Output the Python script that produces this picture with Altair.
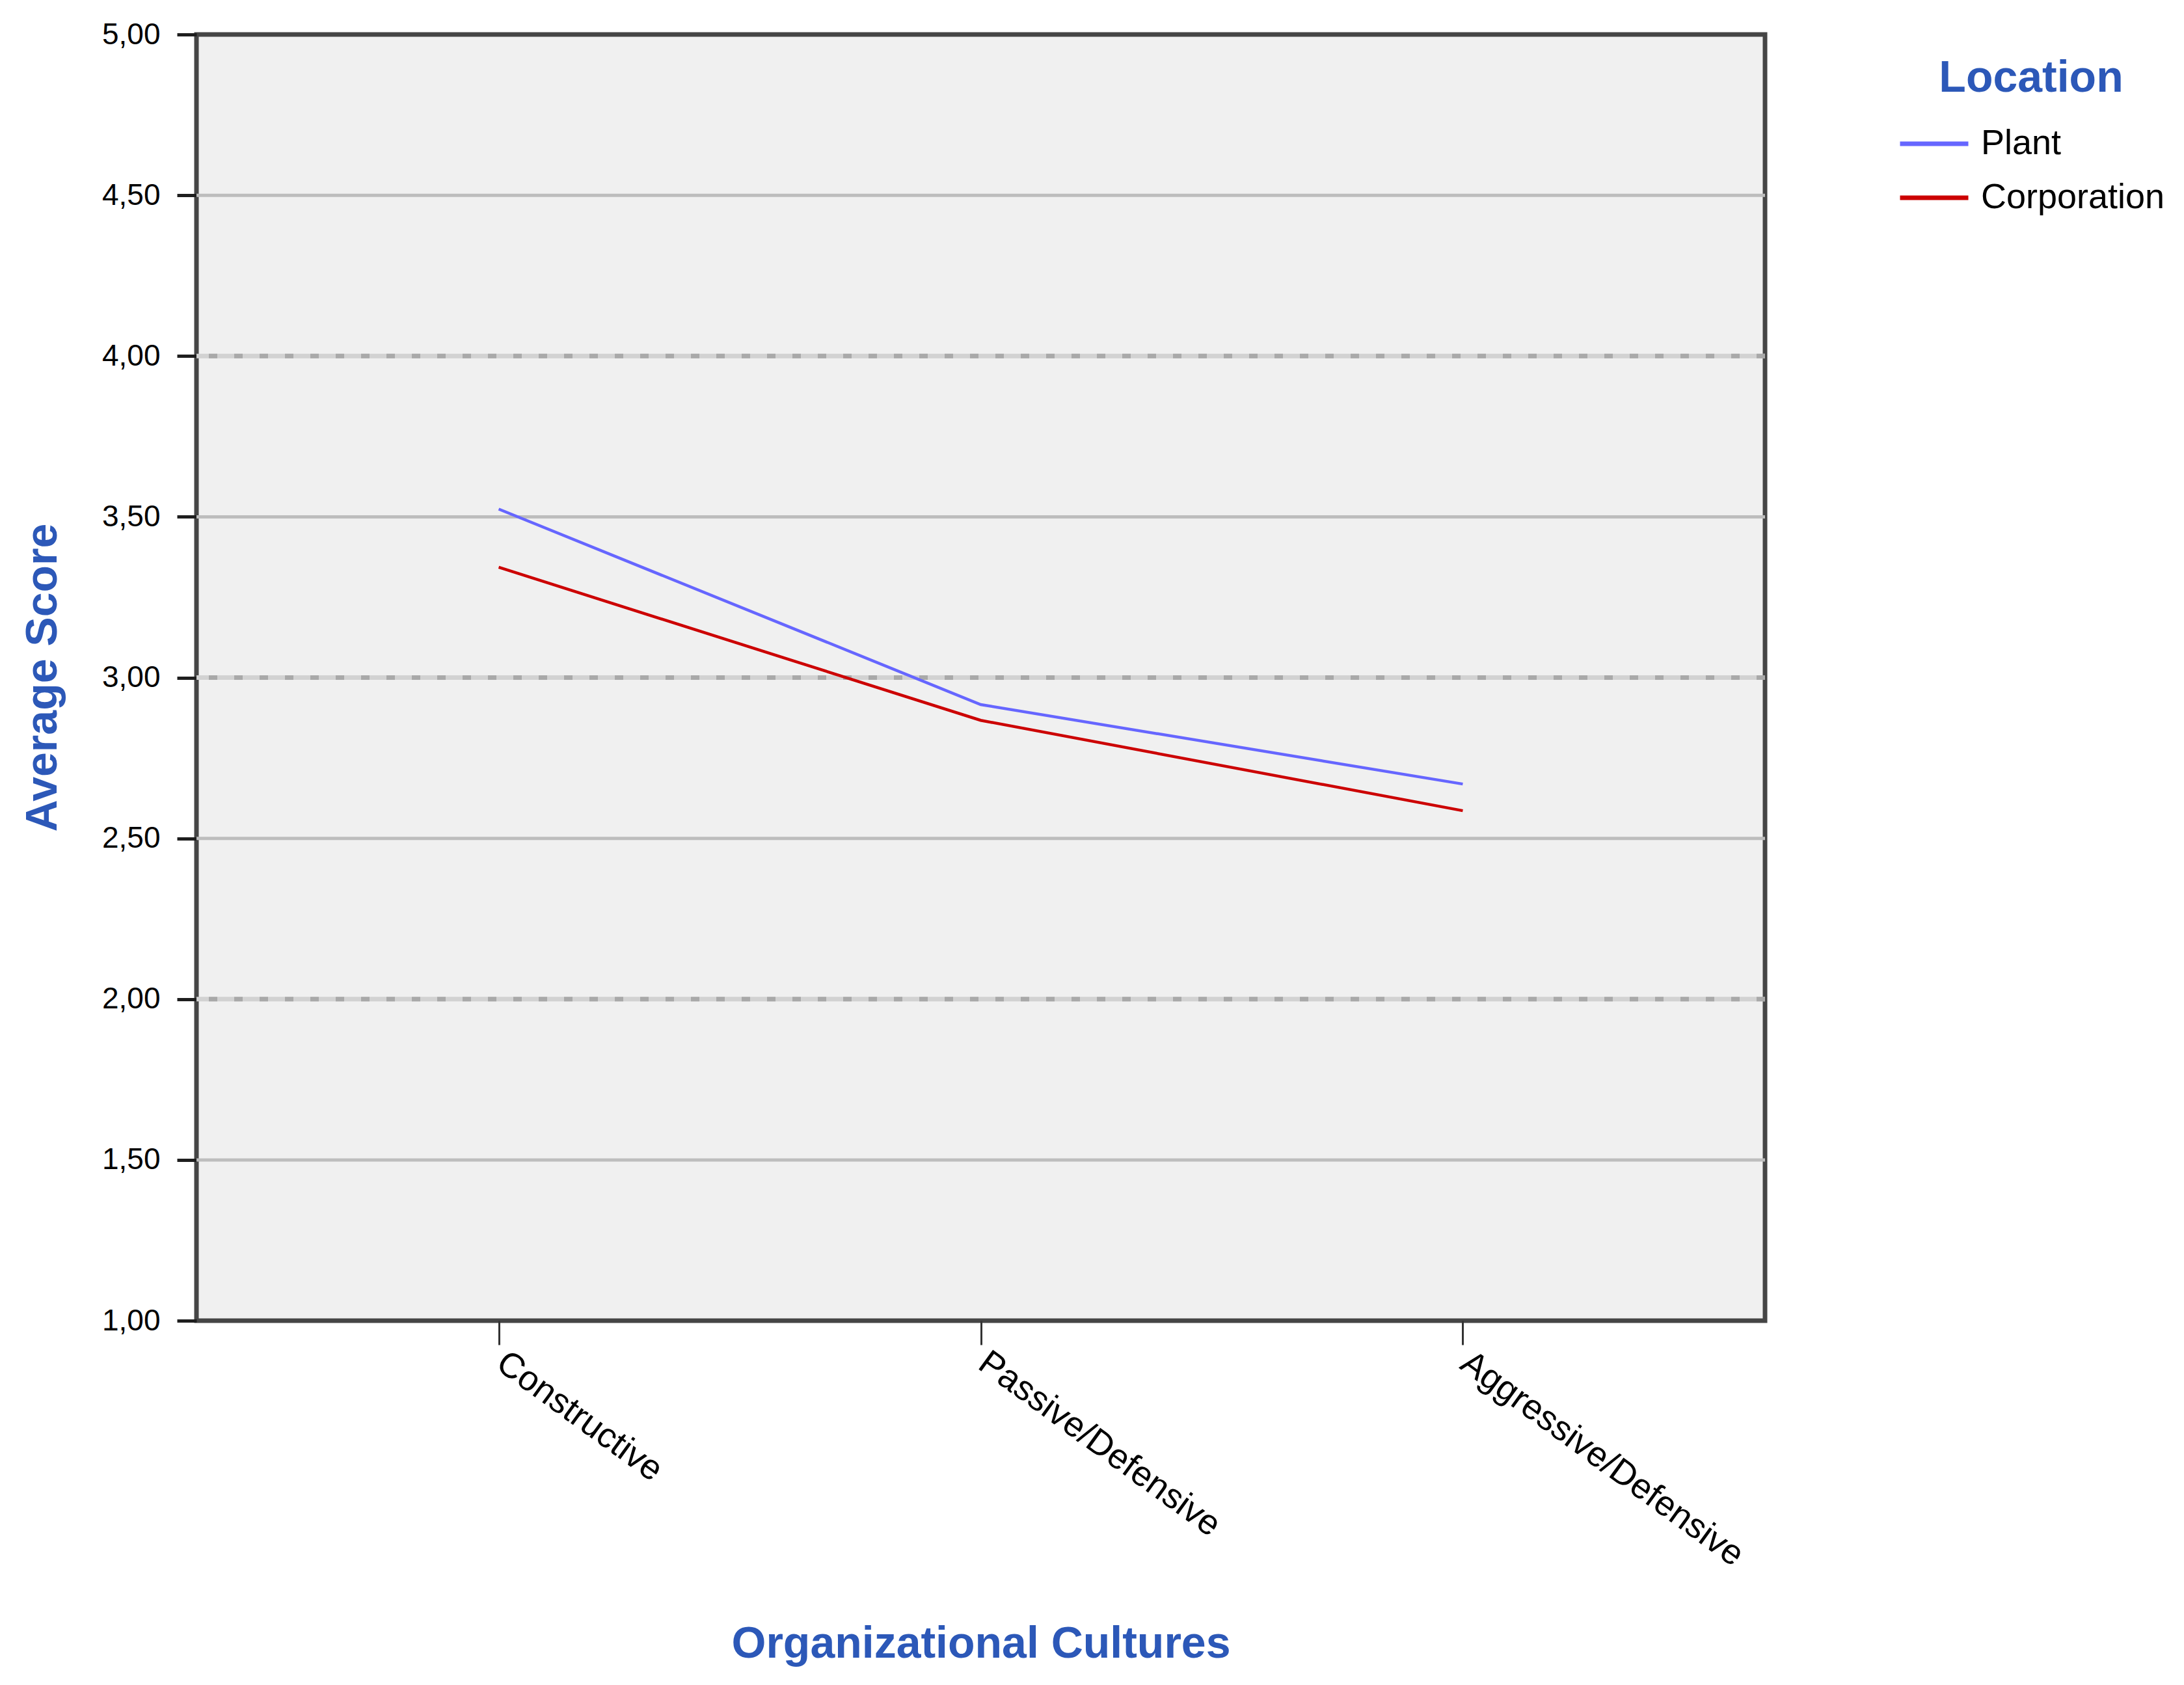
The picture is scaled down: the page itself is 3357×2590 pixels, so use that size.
import altair as alt
import pandas as pd

# ---- data ----
categories = ["Constructive", "Passive/Defensive", "Aggressive/Defensive"]
plant = [3.524, 2.916, 2.669]
corporation = [3.343, 2.867, 2.586]
series_names = ["Plant", "Corporation"]
series_colors = ["#6666ff", "#cc0000"]
y_ticks = [1.0, 1.5, 2.0, 2.5, 3.0, 3.5, 4.0, 4.5, 5.0]
grid_half = [1.5, 2.5, 3.5, 4.5]
grid_int = [2.0, 3.0, 4.0]

BLUE = "#2c58b8"
FONT = "Liberation Sans"

rows = []
for c, v in zip(categories, plant):
    rows.append({"culture": c, "score": v, "location": "Plant"})
for c, v in zip(categories, corporation):
    rows.append({"culture": c, "score": v, "location": "Corporation"})
df = pd.DataFrame(rows)

yscale = alt.Scale(domain=[1, 5], nice=False, zero=False)

y_axis = alt.Axis(
    values=y_ticks,
    labelExpr="replace(format(datum.value, '.2f'), '.', ',')",
    title="Average Score",
    titleFont=FONT,
    titleFontSize=68,
    titleFontWeight="bold",
    titleColor=BLUE,
    titleAngle=270,
    titleX=-216,
    titleY=988,
    titleAlign="center",
    titleBaseline="alphabetic",
    labelFont=FONT,
    labelFontSize=46,
    labelColor="black",
    labelPadding=26,
    tickSize=30,
    tickWidth=5,
    tickColor="#1e1e1e",
    domain=False,
    grid=False,
)

half_df = pd.DataFrame({"score": grid_half})
int_df = pd.DataFrame({"score": grid_int})

grid_solid = alt.Chart(half_df).mark_rule(color="#bdbdbd", strokeWidth=5).encode(
    y=alt.Y("score:Q", scale=yscale, axis=y_axis, title="Average Score")
)
grid_base = alt.Chart(int_df).mark_rule(color="#d2d2d2", strokeWidth=7).encode(
    y=alt.Y("score:Q", scale=yscale, axis=y_axis, title="Average Score")
)
grid_dash = alt.Chart(int_df).mark_rule(color="#a9a9a9", strokeWidth=7, strokeDash=[13, 26]).encode(
    y=alt.Y("score:Q", scale=yscale, axis=y_axis, title="Average Score")
)

lines = alt.Chart(df).mark_line(strokeWidth=4.5).encode(
    x=alt.X(
        "culture:N",
        sort=categories,
        scale=alt.Scale(type="point", padding=0.627),
        axis=alt.Axis(
            title="Organizational Cultures",
            titleFont=FONT,
            titleFontSize=68,
            titleFontWeight="bold",
            titleColor=BLUE,
            titleY=517,
            titleBaseline="alphabetic",
            labelAngle=36,
            labelAlign="left",
            labelBaseline="top",
            labelFont=FONT,
            labelFontSize=54,
            labelColor="black",
            labelPadding=0,
            labelOffset=18,
            labelOverlap=False,
            labelLimit=2000,
            tickSize=37,
            tickWidth=3,
            tickColor="#333333",
            domain=False,
            grid=False,
        ),
    ),
    y=alt.Y("score:Q", scale=yscale, axis=y_axis, title="Average Score"),
    color=alt.Color(
        "location:N",
        scale=alt.Scale(domain=series_names, range=series_colors),
        sort=series_names,
        legend=alt.Legend(
            orient="none",
            legendX=2615,
            legendY=34,
            title="Location",
            titleFont=FONT,
            titleFontSize=68,
            titleFontWeight="bold",
            titleColor=BLUE,
            titleAnchor="middle",
            titleLimit=2000,
            titlePadding=10,
            labelFont=FONT,
            labelFontSize=54,
            labelColor="black",
            labelOffset=16,
            labelLimit=2000,
            symbolType="stroke",
            symbolSize=11025,
            symbolStrokeWidth=7,
            rowPadding=-19,
            padding=0,
        ),
    ),
)

chart = (
    alt.layer(grid_solid, grid_base, grid_dash, lines)
    .properties(
        width=2411,
        height=1977,
        autosize=alt.AutoSizeParams(type="none"),
        padding={"left": 294, "top": 45, "right": 634, "bottom": 540},
        background="white",
    )
    .configure_view(fill="#F0F0F0", stroke="#454545", strokeWidth=7)
)

chart.save("out.html", embed_options={"renderer": "svg", "actions": False})
